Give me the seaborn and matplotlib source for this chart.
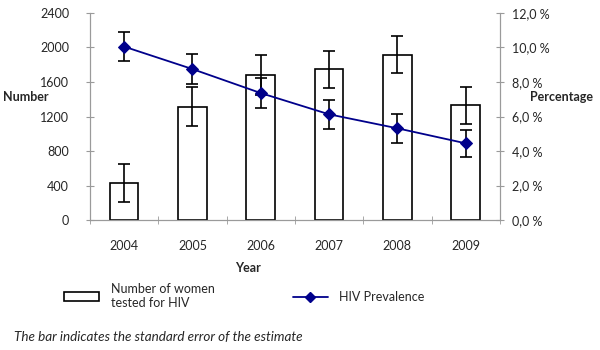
import matplotlib
matplotlib.use("Agg")
import matplotlib.pyplot as plt
from matplotlib.patches import Patch
from matplotlib.lines import Line2D
from matplotlib.ticker import FuncFormatter, FixedLocator
import seaborn as sns
import pandas as pd
import numpy as np

# ---------------------------------------------------------------------
# Data

years = ["2004", "2005", "2006", "2007", "2008", "2009"]
women_tested = [425, 1315, 1685, 1750, 1915, 1330]
women_se = [220, 225, 230, 215, 215, 215]
hiv_prev = [10.05, 8.75, 7.36, 6.13, 5.32, 4.45]
hiv_se = [0.85, 0.85, 0.85, 0.85, 0.85, 0.80]

df = pd.DataFrame({"Year": years, "Tested": women_tested})

# ---------------------------------------------------------------------
sns.set_style("white")
plt.rcParams["font.family"] = ["Lato", "DejaVu Sans"]
axis_grey = "#9a9a9a"
navy = "#00008b"
fs = 9

fig = plt.figure(figsize=(6, 3.5), dpi=100)
ax = fig.add_axes([0.15, 0.371, 0.683, 0.592])

sns.barplot(data=df, x="Year", y="Tested", ax=ax, color="white",
            edgecolor="black", linewidth=1.2, width=0.42, errorbar=None)
ax.errorbar(np.arange(len(years)), women_tested, yerr=women_se, fmt="none",
            ecolor="black", elinewidth=1.2, capsize=4, capthick=1.2, zorder=3)

ax.set_ylim(0, 2400)
ax.set_xlim(-0.5, len(years) - 0.5)
ax.set_yticks(range(0, 2401, 400))
ax.set_xlabel("")
ax.set_ylabel("")
ax.xaxis.set_minor_locator(FixedLocator(np.arange(-0.5, len(years), 1.0)))
ax.tick_params(axis="x", which="major", length=0, labelsize=fs, pad=14)
ax.tick_params(axis="x", which="minor", length=6, direction="inout", color=axis_grey, bottom=True)
ax.tick_params(axis="y", length=6, direction="inout", color=axis_grey, labelsize=fs, pad=12, left=True)
for s in ["left", "bottom", "right"]:
    ax.spines[s].set_color(axis_grey)
    ax.spines[s].set_linewidth(0.8)
ax.spines["top"].set_visible(False)

# Prevalence on the secondary axis
ax2 = ax.twinx()
ax2.errorbar(np.arange(len(years)), hiv_prev, yerr=hiv_se, fmt="none",
             ecolor="black", elinewidth=1.2, capsize=4, capthick=1.2, zorder=3)
sns.lineplot(x=np.arange(len(years)), y=hiv_prev, ax=ax2, color=navy, linewidth=1.3,
             marker="D", markersize=6, markeredgecolor=navy, zorder=4)
ax2.set_ylim(0, 12)
ax2.set_xlim(-0.5, len(years) - 0.5)
ax2.set_yticks(np.arange(0, 12.1, 2))
ax2.yaxis.set_major_formatter(FuncFormatter(lambda v, p: f"{v:.1f}".replace(".", ",") + " %"))
ax2.tick_params(axis="y", length=6, direction="inout", color=axis_grey, labelsize=fs, pad=6, right=True)
for s in ["left", "bottom", "right"]:
    ax2.spines[s].set_color(axis_grey)
    ax2.spines[s].set_linewidth(0.8)
ax2.spines["top"].set_visible(False)

# Axis titles
fig.text(3 / 600, 1 - 97 / 350, "Number", fontsize=fs, fontweight="bold", va="center", ha="left")
fig.text(530 / 600, 1 - 97 / 350, "Percentage", fontsize=fs, fontweight="bold", va="center", ha="left")
fig.text(248 / 600, 1 - 268 / 350, "Year", fontsize=fs, fontweight="bold", va="center", ha="center")

# Legend
handles = [Patch(facecolor="white", edgecolor="black", linewidth=1.2),
           Line2D([0], [0], color=navy, linewidth=1.3, marker="D", markersize=5)]
labels = ["Number of women\ntested for HIV", "HIV Prevalence"]
fig.legend(handles, labels, loc="center left", bbox_to_anchor=(53 / 600, 1 - 296 / 350),
           ncol=2, frameon=False, fontsize=fs, handlelength=2.8, handleheight=0.7,
           columnspacing=6.2, handletextpad=0.95)

fig.text(14 / 600, 1 - 337 / 350, "The bar indicates the standard error of the estimate",
         fontsize=9.7, style="italic", va="center", ha="left")

fig.savefig("out.png", dpi=100)
